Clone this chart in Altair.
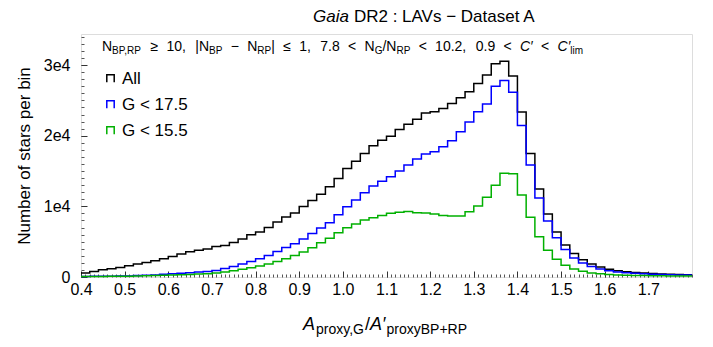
import altair as alt
import pandas as pd

# ---------------- data ----------------
bin_start = 0.4
bin_width = 0.02
series_names = ["All", "G < 17.5", "G < 15.5"]
series_colors = ["#000000", "#0000ff", "#00b000"]

all_counts = [560, 790, 1030, 1170, 1360, 1600, 1840, 2060, 2300, 2590,
              2910, 3250, 3580, 3800, 3960, 4330, 4470, 4890, 5370, 5980,
              6360, 7010, 7780, 8480, 9050, 9980, 10830, 11700, 12770, 13950,
              15370, 16400, 17490, 18570, 19370, 19940, 20880, 21630, 22340, 23200,
              23380, 23850, 24560, 25360, 26210, 27390, 28600, 30200, 30560, 28450,
              23350, 17500, 12470, 8910, 6360, 4520, 3310, 2450, 1840, 1400,
              1100, 900, 760, 650, 560, 490, 430, 380, 340, 310]

g175_counts = [80, 90, 100, 110, 130, 150, 200, 250, 300, 380,
               450, 520, 600, 700, 790, 930, 1200, 1500, 1850, 2200,
               2600, 3060, 3620, 4190, 4710, 5370, 6150, 6950, 7680, 8810,
               9940, 10890, 11920, 12870, 13570, 14180, 14990, 15840, 16690, 17400,
               17720, 18430, 19280, 20550, 21960, 23380, 24500, 27000, 27800, 26150,
               21450, 15840, 11170, 7920, 5540, 3880, 2690, 1980, 1480, 1150,
               880, 720, 600, 520, 460, 400, 360, 330, 300, 280]

g155_counts = [60, 70, 80, 90, 100, 120, 150, 180, 210, 250,
               290, 330, 370, 410, 450, 560, 700, 880, 1080, 1300,
               1550, 1850, 2200, 2600, 3050, 3550, 4150, 4850, 5470, 6260,
               6970, 7490, 8060, 8390, 8720, 9010, 9150, 9290, 9100, 9050,
               8910, 8700, 8630, 8650, 9240, 10040, 11300, 13000, 14700, 14600,
               11600, 8450, 5700, 3800, 2500, 1650, 1150, 800, 580, 450,
               360, 300, 250, 220, 200, 180, 160, 150, 140, 130]

x_major = [0.4, 0.5, 0.6, 0.7, 0.8, 0.9, 1.0, 1.1, 1.2, 1.3, 1.4, 1.5, 1.6, 1.7]
y_major = [0, 10000, 20000, 30000]

FONT = "Liberation Sans"
W, H = 611, 243
X_DOMAIN = [0.4, 1.8]
Y_DOMAIN = [0, 34400]

# ---------------- build step tables ----------------
def step_table(counts, name):
    n = len(counts)
    edges = [round(bin_start + bin_width * i, 4) for i in range(n + 1)]
    vals = list(counts) + [counts[-1]]
    return pd.DataFrame({"x": edges, "y": vals, "series": name, "order": range(n + 1)})

tables = [step_table(c, n) for c, n in zip([all_counts, g175_counts, g155_counts], series_names)]

xscale = alt.Scale(domain=X_DOMAIN, nice=False, zero=False)
yscale = alt.Scale(domain=Y_DOMAIN, nice=False, zero=False)
cscale = alt.Scale(domain=series_names, range=series_colors)

legend = alt.Legend(
    title=None, orient="none", legendX=21, legendY=36,
    symbolType="M-1,1L-1,-1L1,-1L1,1", symbolSize=55, symbolStrokeWidth=1.5,
    symbolFillColor="transparent", labelFont=FONT, labelFontSize=17,
    labelColor="black", rowPadding=8, labelOffset=3, padding=0,
)

x_axis_major = alt.Axis(values=x_major, format=".1f", title=None, tickSize=6, offset=-6,
                        domain=False, grid=False, labelFont=FONT, labelFontSize=16,
                        labelColor="black", labelPadding=4, tickColor="#333",
                        orient="bottom", labelFlush=False)
y_axis_major = alt.Axis(values=y_major, title="Number of stars per bin", tickSize=6, offset=-6,
                        domain=False, grid=False, labelFont=FONT, labelFontSize=16,
                        labelColor="black", labelPadding=11, tickColor="#333",
                        labelExpr="datum.value == 0 ? '0' : format(datum.value/10000, 'd') + 'e4'",
                        titleFont=FONT, titleFontSize=17, titleFontWeight="normal",
                        titleColor="black", titlePadding=10, orient="left")

x_minor = [round(0.4 + 0.01 * i, 2) for i in range(141)]
y_minor = [1000 * i for i in range(35)]

x_axis_minor = alt.Axis(values=x_minor, title=None, labels=False, tickSize=3, offset=-3,
                        domain=False, grid=False, tickColor="#555", orient="bottom")
y_axis_minor = alt.Axis(values=y_minor, title=None, labels=False, tickSize=3, offset=-3,
                        domain=False, grid=False, tickColor="#555", orient="left")

layers = []
minor = alt.Chart(pd.DataFrame({"x": [0.4], "y": [0]})).mark_point(opacity=0).encode(
    x=alt.X("x:Q", scale=xscale, axis=x_axis_minor),
    y=alt.Y("y:Q", scale=yscale, axis=y_axis_minor),
)
layers.append(minor)

for i, t in enumerate(tables):
    layers.append(
        alt.Chart(t).mark_line(interpolate="step-after", strokeWidth=1.5).encode(
            x=alt.X("x:Q", scale=xscale, axis=x_axis_major if i == 0 else None),
            y=alt.Y("y:Q", scale=yscale, axis=y_axis_major if i == 0 else None),
            color=alt.Color("series:N", scale=cscale, legend=legend),
            order="order:Q",
        )
    )

# ---------------- text helpers (annotation / title / x label) ----------------
one = pd.DataFrame({"a": [0]})

def txt(s, x, y, size, italic=False):
    return alt.Chart(one).mark_text(
        text=s, align="left", baseline="alphabetic", font=FONT, fontSize=size,
        fontStyle="italic" if italic else "normal", color="black",
    ).encode(x=alt.value(x), y=alt.value(y))

# approximate advance widths (per em) of Liberation Sans, used to chain text pieces
ADV = {" ": .278, ",": .278, ".": .278, "/": .278, "|": .260, ":": .278,
       "A": .667, "B": .667, "C": .722, "D": .722, "G": .778, "L": .556, "N": .722,
       "P": .667, "R": .722, "V": .667, "a": .556, "e": .556, "i": .222, "l": .222,
       "m": .833, "o": .556, "p": .556, "r": .333, "s": .500, "t": .278, "x": .500,
       "y": .500, "+": .584, "<": .584, "\u2265": .549, "\u2264": .549, "\u2212": .584,
       "\u2032": .191}

def width(s, size):
    return sum(ADV.get(ch, .556) for ch in s) * size

def chain(pieces, x0, base):
    """pieces: float gap in px, or (text, size, italic, dy)."""
    x = x0
    for p in pieces:
        if isinstance(p, (int, float)):
            x += p
            continue
        s, size, it, dy = p
        layers.append(txt(s, x, base + dy, size, it))
        x += width(s, size)

# title  (plot origin at page (81, 34))
chain([("Gaia", 17, True, 0), 5, ("DR2 :  LAVs  \u2212  Dataset A", 17, False, 0)], 232, -12)

# selection annotation
M, S, SD = 14, 10, 3
R = 8.3   # gap around relations
CG = 9.5  # gap after commas
chain([
    ("N", M, False, 0), ("BP,RP", S, False, SD), R, ("\u2265", M, False, 0), R,
    ("10,", M, False, 0), CG, ("|N", M, False, 0), ("BP", S, False, SD), R,
    ("\u2212", M, False, 0), R, ("N", M, False, 0), ("RP", S, False, SD),
    ("|", M, False, 0), R, ("\u2264", M, False, 0), R, ("1,", M, False, 0), CG,
    ("7.8", M, False, 0), R, ("<", M, False, 0), R, ("N", M, False, 0),
    ("G", S, False, SD), ("/N", M, False, 0), ("RP", S, False, SD), R,
    ("<", M, False, 0), R, ("10.2,", M, False, 0), CG, ("0.9", M, False, 0), R,
    ("<", M, False, 0), R, ("C\u2032", M, True, 0), R, ("<", M, False, 0), R,
    ("C\u2032", M, True, 0), ("lim", S, False, SD),
], 21, 17)

# x axis label
chain([
    ("A", 18, True, 0), 1, ("proxy,G", 14, False, 4), ("/", 18, False, 0),
    ("A\u2032", 18, True, 0), 1, ("proxyBP+RP", 14, False, 4),
], 222, 296)

chart = alt.layer(*layers).resolve_axis(x="independent", y="independent").properties(
    width=W, height=H, autosize=alt.AutoSizeParams(type="none"),
    padding={"left": 73, "top": 26, "right": 13, "bottom": 62},
).configure_view(stroke="#444", strokeWidth=1).configure(background="white")

chart.save("out.html", embed_options={"renderer": "svg", "actions": False})
